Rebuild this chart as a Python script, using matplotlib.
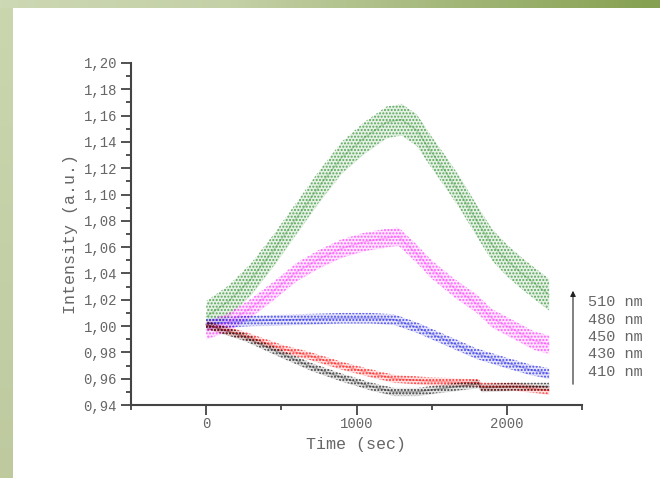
import numpy as np
import matplotlib
matplotlib.use('Agg')
import matplotlib.pyplot as plt
from matplotlib.ticker import MultipleLocator, FuncFormatter

# readings: time (sec) and band centre of intensity (a.u.)
t_510 = [0, 150, 300, 450, 600, 750, 900, 1050, 1200, 1300, 1400, 1500, 1600, 1700, 1800, 1900, 2000, 2100, 2200, 2280]
i_510 = [1.007, 1.019, 1.036, 1.058, 1.082, 1.106, 1.128, 1.143, 1.155, 1.157, 1.149, 1.132, 1.116, 1.099, 1.080, 1.062, 1.050, 1.040, 1.031, 1.024]

t_480 = [0, 150, 300, 450, 600, 750, 900, 1050, 1200, 1280, 1400, 1500, 1650, 1800, 1900, 2050, 2180, 2280]
i_480 = [0.997, 1.003, 1.014, 1.027, 1.041, 1.051, 1.059, 1.064, 1.067, 1.068, 1.055, 1.043, 1.029, 1.017, 1.006, 0.997, 0.989, 0.986]

t_450 = [0, 300, 600, 900, 1100, 1250, 1400, 1600, 1800, 2000, 2150, 2280]
i_450 = [1.002, 1.004, 1.005, 1.006, 1.006, 1.005, 0.999, 0.989, 0.979, 0.972, 0.967, 0.964]

t_430 = [0, 250, 500, 700, 900, 1100, 1250, 1500, 1810, 1830, 2050, 2280]
i_430 = [1.001, 0.993, 0.983, 0.977, 0.970, 0.964, 0.960, 0.958, 0.957, 0.954, 0.954, 0.951]

t_410 = [0, 250, 500, 700, 900, 1100, 1250, 1400, 1600, 1810, 1830, 2050, 2280]
i_410 = [1.001, 0.992, 0.979, 0.969, 0.961, 0.954, 0.950, 0.950, 0.953, 0.956, 0.953, 0.954, 0.954]

# half width of the scattered band for each trace
w_510, w_480, w_450, w_430, w_410 = 0.012, 0.007, 0.004, 0.003, 0.003

labels = ['510 nm', '480 nm', '450 nm', '430 nm', '410 nm']

plt.rcParams['font.family'] = ['Liberation Mono', 'DejaVu Sans Mono']
plt.rcParams['hatch.linewidth'] = 1.0
grey = '#666666'

fig = plt.figure(figsize=(6.6, 4.78), dpi=100)
fig.patch.set_facecolor('white')

# green frame at top and left
bg = fig.add_axes([0, 0, 1, 1], zorder=-10)
bg.axis('off')
bg.set_xlim(0, 660)
bg.set_ylim(478, 0)
pos = np.linspace(0, 1, 300)
stops = np.array([[205, 216, 180], [196, 208, 166], [133, 160, 80]]) / 255
top = np.stack([np.interp(pos, [0, 0.35, 1], stops[:, k]) for k in range(3)], axis=-1)
bg.imshow(top[None, :, :], extent=[0, 660, 8, 0], aspect='auto')
left = np.stack([np.linspace(a, b, 200) for a, b in zip([202, 214, 174], [190, 202, 158])], axis=-1) / 255
bg.imshow(left[:, None, :], extent=[0, 13, 478, 8], aspect='auto')

ax = fig.add_axes([131 / 660, 1 - 405 / 478, 451 / 660, 342 / 478])

series = [
    (t_510, i_510, w_510, '#2f8f2f'),
    (t_480, i_480, w_480, '#ff30ff'),
    (t_450, i_450, w_450, '#1a1ae6'),
    (t_430, i_430, w_430, '#ff0000'),
    (t_410, i_410, w_410, '#111111'),
]
for t, v, w, c in series:
    t = np.array(t)
    v = np.array(v)
    ax.fill_between(t, v - w, v + w, color=c, alpha=0.12, linewidth=0)
    ax.fill_between(t, v - w, v + w, facecolor='none', edgecolor=c,
                    hatch='.....', linewidth=0, alpha=0.75)
    ax.plot(t, v, color=c, lw=1.0, alpha=0.3)

ax.set_xlim(-500, 2500)
ax.set_ylim(0.94, 1.20)
ax.xaxis.set_major_locator(MultipleLocator(1000))
ax.xaxis.set_minor_locator(MultipleLocator(500))
ax.yaxis.set_major_locator(MultipleLocator(0.02))
ax.yaxis.set_minor_locator(MultipleLocator(0.01))
ax.yaxis.set_major_formatter(FuncFormatter(lambda v, p: f'{v:.2f}'.replace('.', ',')))

for s in ['top', 'right']:
    ax.spines[s].set_visible(False)
for s in ['left', 'bottom']:
    ax.spines[s].set_linewidth(1.5)
    ax.spines[s].set_color('#444444')
ax.tick_params(which='major', direction='out', length=7, width=1.3, color='#444444',
               labelsize=10, labelcolor=grey, pad=3)
ax.tick_params(axis='x', which='major', pad=2)
ax.tick_params(which='minor', direction='out', length=3.5, width=1.3, color='#444444')

ax.set_xlabel('Time (sec)', fontsize=12, color=grey, labelpad=4)
ax.set_ylabel('Intensity (a.u.)', fontsize=12, color=grey, labelpad=4)

# wavelength key with arrow
fig.patches.append(matplotlib.patches.FancyArrowPatch(
    (573 / 660, 1 - 387 / 478), (573 / 660, 1 - 288 / 478), transform=fig.transFigure,
    arrowstyle='-|>', mutation_scale=8, color='#222222', lw=0.8))
for k, lab in enumerate(labels):
    fig.text(588 / 660, 1 - (302 + 17.5 * k) / 478, lab, fontsize=11, color=grey,
             va='center', ha='left')

fig.savefig('out.png', dpi=100)
